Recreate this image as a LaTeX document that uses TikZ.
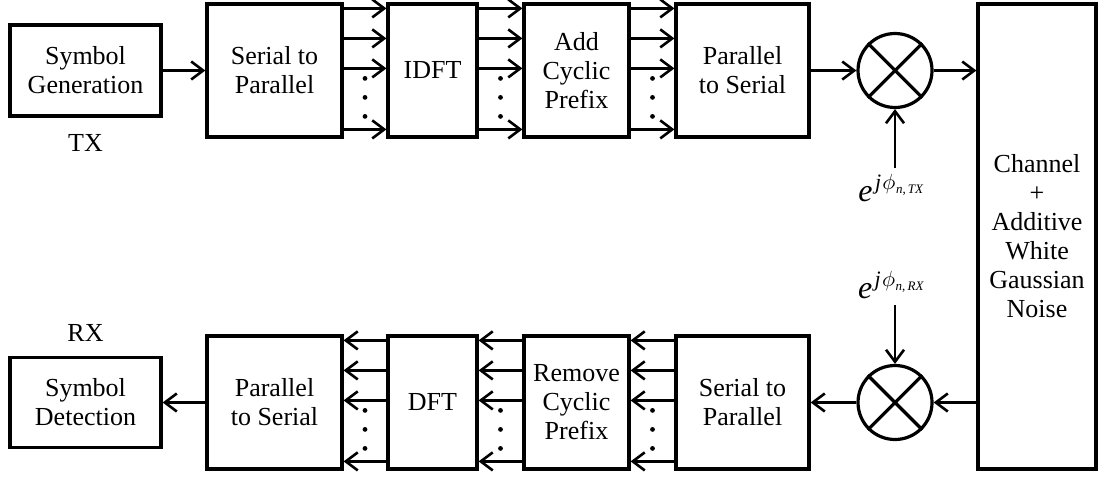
\documentclass[tikz,border=0pt]{standalone}
\usepackage{fontspec}
\setmainfont{Liberation Serif}
\usetikzlibrary{arrows.meta,positioning,calc}
\newcommand{\phaselbl}[1]{{\fontsize{16}{16}\selectfont\textit{e}}\kern1.2pt%
  \raisebox{6pt}{\fontsize{11}{11}\selectfont\textit{j}\kern0.6pt$\phi$%
  \kern0.3pt\raisebox{-2pt}{\fontsize{6.5}{6.5}\selectfont\textit{n},\,\textit{#1}}}}
\tikzset{
  blk/.style={draw,line width=1.6pt,align=center,inner sep=0pt},
  mixer/.style={draw,circle,line width=1.6pt,minimum size=37pt,inner sep=0pt},
  sig/.style={line width=1.3pt,-{Straight Barb[length=6pt,width=9pt]}},
}
\begin{document}
\begin{tikzpicture}[x=0.5pt,y=-0.5pt,font=\fontsize{13}{14.5}\selectfont]
  \useasboundingbox (0,0) rectangle (1106,477);
  % TX chain
  \node[blk,minimum width=75.5pt,minimum height=45.5pt] (sgen) at (85.5,70.5) {Symbol\\Generation};
  \node[blk,minimum width=67.5pt,minimum height=66.5pt] (s2p) at (274.5,70.5) {Serial to\\Parallel};
  \node[blk,minimum width=44.5pt,minimum height=66.5pt] (idft) at (432.5,70.5) {IDFT};
  \node[blk,minimum width=52.5pt,minimum height=66.5pt] (acp) at (576.5,70.5) {Add\\Cyclic\\Prefix};
  \node[blk,minimum width=66.5pt,minimum height=66.5pt] (p2s) at (742.5,70.5) {Parallel\\to Serial};
  \node[mixer] (mix1) at (895,70.5) {};
  \node[below=5pt of sgen] (tx) {TX};
  \node[inner sep=3pt,anchor=north] (ptx) at (891,168) {\phaselbl{TX}};
  % channel
  \node[blk,minimum width=59pt,minimum height=232.5pt] (chan) at (1037,236.5)
    {Channel\\+\\Additive\\White\\Gaussian\\Noise};
  % RX chain
  \node[blk,minimum width=75.5pt,minimum height=45pt] (sdet) at (85.5,402.5) {Symbol\\Detection};
  \node[blk,minimum width=67.5pt,minimum height=66.5pt] (p2sr) at (274.5,402.5) {Parallel\\to Serial};
  \node[blk,minimum width=44.5pt,minimum height=66.5pt] (dft) at (432.5,402.5) {DFT};
  \node[blk,minimum width=52.5pt,minimum height=66.5pt] (rcp) at (576.5,402.5) {Remove\\Cyclic\\Prefix};
  \node[blk,minimum width=66.5pt,minimum height=66.5pt] (s2pr) at (742.5,402.5) {Serial to\\Parallel};
  \node[mixer] (mix2) at (895,402.5) {};
  \node[above=3.5pt of sdet] (rx) {RX};
  \node[inner sep=3pt,anchor=south] (prx) at (891,305) {\phaselbl{RX}};

  \foreach \m in {mix1,mix2}
    \draw[line width=1.6pt] (\m.north west) -- (\m.south east) (\m.north east) -- (\m.south west);

  \foreach \a/\b in {s2p/idft,idft/acp,acp/p2s}{
    \foreach \dy in {6,36,66,127}
      \draw[sig] ($(\a.north east)+(0,\dy)$) -- ($(\b.north west)+(0,\dy)$);
    \foreach \dy in {76,95,114}
      \fill ($(\a.north east)!0.5!(\b.north west)+(0,\dy)$) circle[radius=1.2pt];
  }
  \foreach \a/\b in {p2sr/dft,dft/rcp,rcp/s2pr}{
    \foreach \dy in {6,36,66,127}
      \draw[sig] ($(\b.north west)+(0,\dy)$) -- ($(\a.north east)+(0,\dy)$);
    \foreach \dy in {76,95,114}
      \fill ($(\a.north east)!0.5!(\b.north west)+(0,\dy)$) circle[radius=1.2pt];
  }

  \draw[sig] (sgen) -- (s2p);
  \draw[sig] (p2s) -- (mix1);
  \draw[sig] (mix1.east) -- (mix1.east -| chan.west);
  \draw[sig] (ptx.north -| mix1) -- (mix1.south);
  \draw[sig] (prx.south -| mix2) -- (mix2.north);
  \draw[sig] (chan.west |- mix2) -- (mix2.east);
  \draw[sig] (mix2) -- (s2pr);
  \draw[sig] (p2sr) -- (sdet);
\end{tikzpicture}
\end{document}
